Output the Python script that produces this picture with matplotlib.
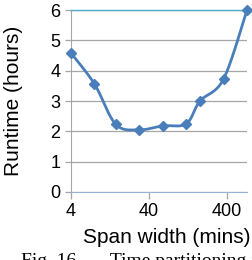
"""
Runtime vs span width (log x), Excel-style smoothed line with diamond markers
"""
import matplotlib
matplotlib.use('Agg')
import matplotlib.pyplot as plt
import numpy as np

plt.rcParams['font.family'] = 'Liberation Sans'

# Data
span_mins = np.array([4, 8, 15, 30, 60, 120, 180, 360, 720])
runtime_hrs = np.array([4.58, 3.56, 2.23, 2.05, 2.18, 2.25, 3.0, 3.72, 6.0])
x_ticks = [4, 40, 400]
y_ticks = [0, 1, 2, 3, 4, 5, 6]

line_color = '#4A7EBB'


def smooth(xs, ys, n=30):
    # Catmull-Rom through the points (in log-x space), like Excel's smoothed line
    lx = np.log10(xs)
    px = np.concatenate([[lx[0]], lx, [lx[-1]]])
    py = np.concatenate([[ys[0]], ys, [ys[-1]]])
    out_x, out_y = [], []
    t = np.linspace(0, 1, n)
    for i in range(1, len(px) - 2):
        for arr, out in ((px, out_x), (py, out_y)):
            p0, p1, p2, p3 = arr[i - 1], arr[i], arr[i + 1], arr[i + 2]
            out.append(0.5 * ((2 * p1) + (-p0 + p2) * t
                              + (2 * p0 - 5 * p1 + 4 * p2 - p3) * t ** 2
                              + (-p0 + 3 * p1 - 3 * p2 + p3) * t ** 3))
    return 10 ** np.concatenate(out_x), np.concatenate(out_y)


fig = plt.figure(figsize=(2.52, 2.60), dpi=100)
ax = fig.add_axes([71 / 252, 68 / 260, 176 / 252, 182 / 260])

sx, sy = smooth(span_mins, runtime_hrs)
ax.plot(sx, sy, '-', color=line_color, lw=2.0, clip_on=False, zorder=3)
ax.plot(span_mins, runtime_hrs, 'D', color=line_color, ms=5, clip_on=False, zorder=4)

ax.set_xscale('log')
ax.set_xlim(4, 720)
ax.set_ylim(0, 6)
ax.set_xticks(x_ticks)
ax.set_xticklabels([str(v) for v in x_ticks])
ax.minorticks_off()
ax.set_yticks(y_ticks)

ax.grid(axis='y', color='#A6A6A6', lw=0.9)
ax.set_axisbelow(True)
ax.spines['right'].set_visible(False)
ax.spines['top'].set_color('#4BACC6')
ax.spines['top'].set_linewidth(1.0)
ax.spines['bottom'].set_color('#95B3D7')
ax.spines['left'].set_color('#A6A6A6')

ax.tick_params(axis='both', labelsize=13, colors='#A6A6A6', labelcolor='black',
               length=4, width=0.9, direction='out')
ax.tick_params(axis='x', length=5, pad=3)

ax.set_xlabel('Span width (mins)', fontsize=15)
ax.set_ylabel('Runtime (hours)', fontsize=15)
ax.xaxis.set_label_coords(0.545, -0.2)
ax.yaxis.set_label_coords(-0.275, 0.5)

# caption of the source figure, cut off at the bottom edge as in the original
fig.text(21 / 252, -6 / 260, 'Fig. 16.      Time partitioning in', fontsize=14,
         family='Liberation Serif', va='baseline', ha='left')

plt.savefig('out.png', dpi=100, facecolor='white')
plt.close()
